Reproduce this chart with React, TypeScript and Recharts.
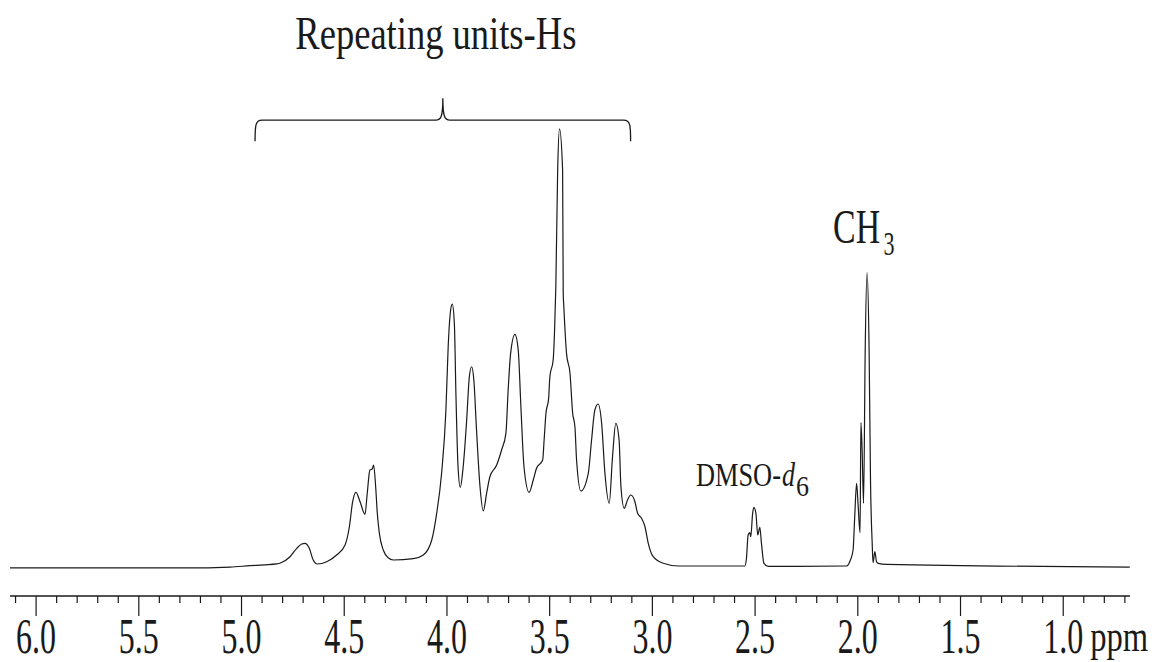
import { LineChart, Line, XAxis, YAxis, ReferenceArea, ReferenceDot } from 'recharts';

// chemical shift (ppm), intensity (% of the 3.45 ppm peak)
const leadingBaseline: [number, number][] = [
    [6.127, 0], [5.267, 0], [5.056, 0.2], [4.959, 0.5], [4.886, 0.7], [4.829, 0.9],
];

const repeatingUnits: [number, number][] = [
    [4.813, 1.05], [4.764, 2.55], [4.731, 4.46], [4.707, 5.44], [4.691, 5.6], [4.67, 4.46],
    [4.651, 1.8], [4.631, 0.89], [4.585, 1.41], [4.537, 2.94], [4.496, 5.22], [4.475, 9.38],
    [4.459, 15.08], [4.443, 17.22], [4.423, 15.08], [4.399, 12.21], [4.388, 16.99], [4.375, 22.3],
    [4.364, 22.53], [4.357, 23.44], [4.347, 18.5], [4.339, 12.44], [4.329, 7.88], [4.31, 4.08],
    [4.286, 2.32], [4.261, 1.8], [4.164, 2.1], [4.115, 2.94], [4.074, 6.36], [4.05, 12.44],
    [4.026, 21.55], [4.005, 35.97], [3.994, 50.39], [3.982, 58.75], [3.974, 60.11], [3.964, 55.72],
    [3.956, 39.0], [3.946, 23.05], [3.935, 18.36], [3.921, 23.05], [3.904, 33.69], [3.891, 43.55],
    [3.88, 45.83], [3.869, 42.8], [3.856, 31.41], [3.839, 18.5], [3.823, 12.96], [3.807, 16.99],
    [3.791, 20.77], [3.758, 23.44], [3.734, 26.86], [3.713, 30.66], [3.702, 40.52], [3.69, 48.88],
    [3.669, 53.21], [3.653, 49.63], [3.64, 36.72], [3.625, 23.05], [3.6, 17.22], [3.58, 20.02],
    [3.564, 22.69], [3.534, 24.58], [3.527, 29.13], [3.518, 35.22], [3.505, 38.63], [3.499, 43.55],
    [3.483, 47.36], [3.476, 54.19], [3.47, 64.05], [3.461, 90.64], [3.452, 100], [3.437, 90.64],
    [3.434, 62.55], [3.431, 59.5], [3.418, 48.88], [3.401, 44.33], [3.388, 35.22], [3.377, 32.16],
    [3.369, 24.58], [3.348, 17.52], [3.312, 21.55], [3.296, 29.13], [3.28, 35.97], [3.264, 37.34],
    [3.247, 32.94], [3.231, 21.55], [3.21, 14.72], [3.194, 25.33], [3.178, 32.94], [3.162, 29.13],
    [3.153, 18.5], [3.137, 13.58], [3.121, 15.47], [3.105, 16.61], [3.085, 15.08], [3.072, 12.44],
    [3.053, 11.3], [3.036, 9.38], [3.02, 5.6], [2.996, 2.55], [2.947, 1.05], [2.874, 0.43],
];

const dmsoPeak: [number, number][] = [
    [2.55, 0.43], [2.542, 2.19], [2.534, 7.49], [2.526, 8.02], [2.521, 7.11], [2.512, 12.44],
    [2.506, 13.8], [2.496, 12.44], [2.487, 7.49], [2.477, 9.25], [2.469, 5.6], [2.457, 1.05],
    [2.436, 0.36],
];

const methylPeak: [number, number][] = [
    [2.055, 0.43], [2.036, 1.8], [2.023, 4.08], [2.015, 11.66], [2.006, 19.27], [1.999, 14.72],
    [1.989, 8.02], [1.985, 33.08], [1.979, 26.86], [1.972, 14.72], [1.964, 49.63], [1.955, 67.24],
    [1.945, 49.63], [1.938, 19.27], [1.93, 5.6], [1.926, 1.18], [1.917, 3.69], [1.909, 1.41],
    [1.901, 1.05],
];

const trailingBaseline: [number, number][] = [[1.86, 0.8], [0.676, 0.2]];

const majorTicks = [6.0, 5.5, 5.0, 4.5, 4.0, 3.5, 3.0, 2.5, 2.0, 1.5, 1.0];
const allTicks = Array.from({ length: 55 }, (_, i) => Math.round((0.7 + i * 0.1) * 10) / 10);

const data = [...leadingBaseline, ...repeatingUnits, ...dmsoPeak, ...methylPeak, ...trailingBaseline]
    .map(([ppm, intensity]) => ({ ppm, intensity }));

const serif = '"Liberation Serif", "Times New Roman", serif';
const ink = '#1a1a1a';

const PpmTick = ({ x, y, payload }: any) => {
    const v: number = payload.value;
    const major = majorTicks.some((m) => Math.abs(m - v) < 1e-6);
    return (
        <g>
            <line x1={x} x2={x} y1={y} y2={y + (major ? 20 : 7)} stroke={ink} strokeWidth={1.2} />
            {major && (
                <text x={x} y={y + 57} textAnchor="middle" fontSize={50} fontFamily={serif} fill={ink}
                    textLength={40} lengthAdjust="spacingAndGlyphs">
                    {v.toFixed(1)}
                </text>
            )}
            {major && Math.abs(v - 1) < 1e-6 && (
                <text x={x + 27} y={y + 55} fontSize={44} fontFamily={serif} fill={ink}
                    textLength={58} lengthAdjust="spacingAndGlyphs">
                    ppm
                </text>
            )}
        </g>
    );
};

const Brace = ({ x, y, width, height }: any) => {
    const left = x;
    const right = x + width;
    const bottom = y + height;
    const hy = y + height * 0.51;
    const mid = (left + right) / 2;
    const d = `M ${left} ${bottom} C ${left} ${hy + 6} ${left} ${hy} ${left + 7} ${hy}
        L ${mid - 7} ${hy} C ${mid - 2} ${hy} ${mid} ${hy - 3} ${mid} ${y}
        C ${mid} ${hy - 3} ${mid + 2} ${hy} ${mid + 7} ${hy}
        L ${right - 7} ${hy} C ${right} ${hy} ${right} ${hy + 6} ${right} ${bottom}`;
    return <path d={d} fill="none" stroke={ink} strokeWidth={1.3} />;
};

const TitleLabel = ({ cx, cy }: any) => (
    <text x={cx} y={cy} textAnchor="middle" fontSize={47} fontFamily={serif} fill={ink}
        textLength={281} lengthAdjust="spacingAndGlyphs">
        Repeating units-Hs
    </text>
);

const MethylLabel = ({ cx, cy }: any) => (
    <g fill={ink} fontFamily={serif}>
        <text x={cx} y={cy} textAnchor="middle" fontSize={48} textLength={47} lengthAdjust="spacingAndGlyphs">CH</text>
        <text x={cx + 27} y={cy + 12} fontSize={34} textLength={11} lengthAdjust="spacingAndGlyphs">3</text>
    </g>
);

const SolventLabel = ({ cx, cy }: any) => (
    <g fill={ink} fontFamily={serif}>
        <text x={cx} y={cy} fontSize={34} textLength={85} lengthAdjust="spacingAndGlyphs">DMSO-</text>
        <text x={cx + 86} y={cy} fontSize={34} fontStyle="italic" textLength={13} lengthAdjust="spacingAndGlyphs">d</text>
        <text x={cx + 100} y={cy + 10} fontSize={30} textLength={13} lengthAdjust="spacingAndGlyphs">6</text>
    </g>
);

const App = () => {
    return (
        <div style={{ position: 'absolute', left: 0, top: 0, width: 1161, height: 662, background: '#fff' }}>
            <LineChart width={1161} height={662} data={data}
                margin={{ top: 10, right: 31, bottom: 0, left: 10 }}>
                <XAxis
                    dataKey="ppm"
                    type="number"
                    domain={[0.675, 6.127]}
                    reversed
                    allowDataOverflow
                    ticks={allTicks}
                    interval={0}
                    height={66}
                    tickSize={0}
                    tickMargin={0}
                    tickLine={false}
                    axisLine={{ stroke: ink, strokeWidth: 1.3 }}
                    tick={<PpmTick />}
                />
                <YAxis hide type="number" domain={[-6.4, 127.1]} allowDataOverflow />
                <ReferenceArea x1={4.934} x2={3.106} y1={97.2} y2={107.0} shape={<Brace />} ifOverflow="visible" />
                <ReferenceDot x={4.054} y={118.2} r={0} shape={<TitleLabel />} ifOverflow="visible" />
                <ReferenceDot x={2.006} y={74.0} r={0} shape={<MethylLabel />} ifOverflow="visible" />
                <ReferenceDot x={2.788} y={18.7} r={0} shape={<SolventLabel />} ifOverflow="visible" />
                <Line
                    type="monotoneX"
                    dataKey="intensity"
                    stroke={ink}
                    strokeWidth={1.2}
                    dot={false}
                    isAnimationActive={false}
                />
            </LineChart>
        </div>
    );
};

export default App;
